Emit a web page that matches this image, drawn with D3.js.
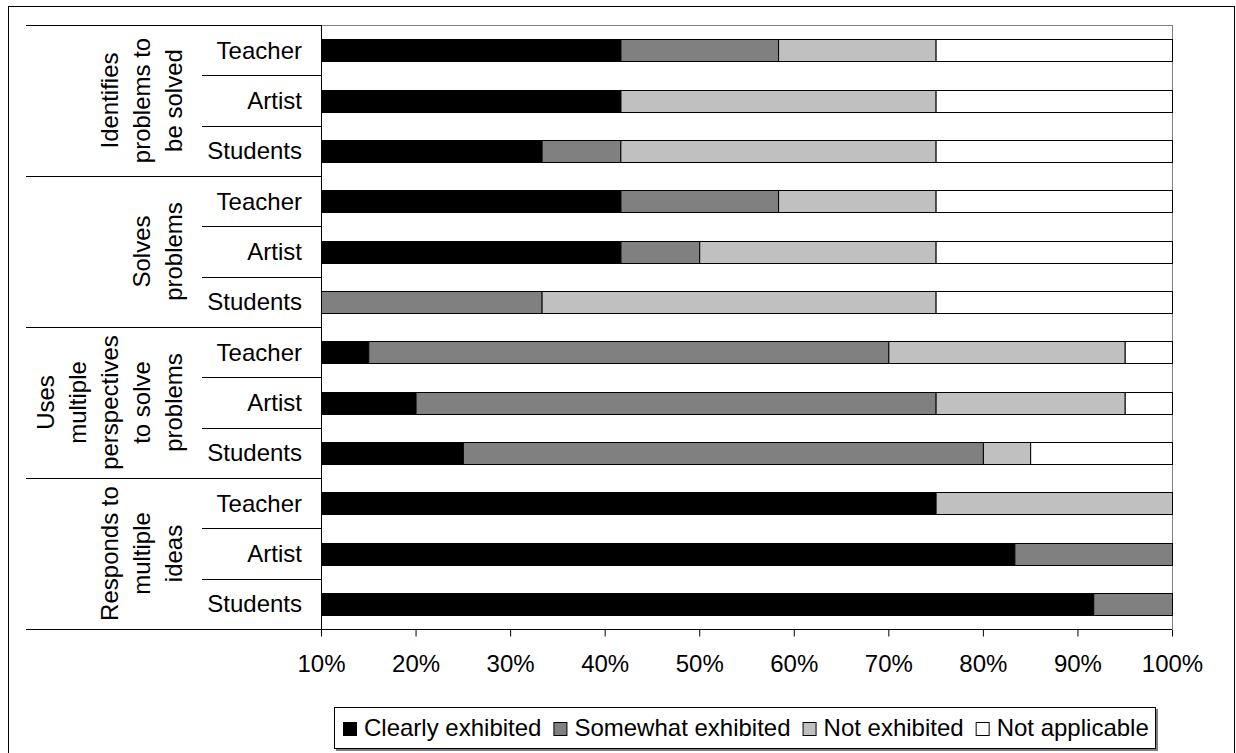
<!DOCTYPE html>
<html>
<head>
<meta charset="utf-8">
<script src="https://cdn.jsdelivr.net/npm/d3@7/dist/d3.min.js"></script>
<style>
  html, body { margin: 0; padding: 0; background: #fff; }
  svg { display: block; }
  text { font-family: "Liberation Sans", Arial, sans-serif; fill: #000; }
</style>
</head>
<body>
<svg id="chart" width="1236" height="753"></svg>
<script>
// ---- data ----
const groupLines = [
  ["Identifies", "problems to", "be solved"],
  ["Solves", "problems"],
  ["Uses", "multiple", "perspectives", "to solve", "problems"],
  ["Responds to", "multiple", "ideas"]
];
const roles = ["Teacher", "Artist", "Students"];
const seriesNames = ["Clearly exhibited", "Somewhat exhibited", "Not exhibited", "Not applicable"];
const seriesColors = ["#000000", "#808080", "#c0c0c0", "#ffffff"];
// one value per row (group x role), top to bottom, in percent
const clearly   = [41.67, 41.67, 33.33, 41.67, 41.67, 0,     15, 20, 25, 75, 83.33, 91.67];
const somewhat  = [16.67, 0,     8.33,  16.67, 8.33,  33.33, 55, 55, 55, 0,  16.67, 8.33];
const notExhib  = [16.66, 33.33, 33.34, 16.66, 25,    41.67, 25, 20, 5,  25, 0,     0];
const notAppl   = [25,    25,    25,    25,    25,    25,    5,  5,  15, 0,  0,     0];
const tickValues = [10, 20, 30, 40, 50, 60, 70, 80, 90, 100];

// ---- layout ----
const svg = d3.select("#chart");
const plot = { left: 321, right: 1172, top: 25, bottom: 629 };
const FS = 24;

// outer frame
svg.append("rect").attr("x", 8.5).attr("y", 6.5).attr("width", 1226).attr("height", 760)
  .attr("fill", "none").attr("stroke", "#000").attr("stroke-width", 1);

const rows = [];
groupLines.forEach((g, gi) => roles.forEach((r, ri) => rows.push({ id: gi + "-" + ri, gi, ri, role: r })));
const seriesVals = [clearly, somewhat, notExhib, notAppl];
rows.forEach((row, i) => { seriesVals.forEach((s, k) => row[seriesNames[k]] = s[i]); });

const x = d3.scaleLinear().domain([10, 100]).range([plot.left, plot.right]).clamp(true);
const y = d3.scaleBand().domain(rows.map(d => d.id)).range([plot.top, plot.bottom])
  .paddingInner(0.569).paddingOuter(0.2845);
const step = y.step();

// plot border (grey top/right)
svg.append("line").attr("x1", plot.left).attr("x2", plot.right).attr("y1", plot.top + 0.5).attr("y2", plot.top + 0.5)
  .attr("stroke", "#808080");
svg.append("line").attr("x1", plot.right + 0.5).attr("x2", plot.right + 0.5).attr("y1", plot.top).attr("y2", plot.bottom)
  .attr("stroke", "#808080");

// stacked bars
const stack = d3.stack().keys(seriesNames);
const stacked = stack(rows);
const layers = svg.append("g").selectAll("g").data(stacked).join("g")
  .attr("fill", (d, i) => seriesColors[i]);
layers.selectAll("rect")
  .data(d => d.filter(s => x(s[1]) - x(s[0]) > 0.5))
  .join("rect")
  .attr("x", d => x(d[0]) + 0.5)
  .attr("width", d => x(d[1]) - x(d[0]))
  .attr("y", d => Math.round(y(d.data.id)) + 0.5)
  .attr("height", Math.round(y.bandwidth()))
  .attr("stroke", "#000").attr("stroke-width", 1);

// x axis
const xAxis = svg.append("g").attr("transform", `translate(0,${plot.bottom + 0.5})`)
  .call(d3.axisBottom(x).tickValues(tickValues).tickFormat(d => d + "%").tickSize(7).tickPadding(18));
xAxis.select(".domain").attr("stroke", "#000").attr("d", `M${plot.left},0H${plot.right}`);
xAxis.selectAll(".tick line").attr("stroke", "#000");
xAxis.selectAll(".tick text").attr("font-size", FS).attr("font-family", "Liberation Sans, Arial, sans-serif");
xAxis.selectAll(".tick").attr("transform", d => `translate(${x(d) + 0.5},0)`);

// left axis line
svg.append("line").attr("x1", plot.left + 0.5).attr("x2", plot.left + 0.5).attr("y1", plot.top).attr("y2", plot.bottom)
  .attr("stroke", "#000");

// category separators
for (let i = 0; i <= rows.length; i++) {
  const yy = Math.round(plot.top + i * step) + 0.5;
  const isGroup = i % roles.length === 0;
  svg.append("line").attr("x1", isGroup ? 26 : 202).attr("x2", plot.left).attr("y1", yy).attr("y2", yy)
    .attr("stroke", "#000");
}

// role labels
svg.append("g").selectAll("text").data(rows).join("text")
  .attr("x", 302).attr("y", d => y(d.id) + y.bandwidth() / 2 + 8.6)
  .attr("text-anchor", "end").attr("font-size", FS)
  .text(d => d.role);

// group labels (rotated)
const lineH = 32;
groupLines.forEach((lines, gi) => {
  const cy = plot.top + (gi * roles.length + roles.length / 2) * step;
  const n = lines.length;
  lines.forEach((t, li) => {
    const bx = 182 - (n - 1 - li) * lineH;
    svg.append("text")
      .attr("transform", `translate(${bx},${cy}) rotate(-90)`)
      .attr("text-anchor", "middle").attr("font-size", FS)
      .text(t);
  });
});

// legend
const lg = svg.append("g");
lg.append("rect").attr("x", 336).attr("y", 709).attr("width", 822).attr("height", 42).attr("fill", "#808080");
lg.append("rect").attr("x", 334.5).attr("y", 707.5).attr("width", 821).attr("height", 41)
  .attr("fill", "#fff").attr("stroke", "#000");
let lx = 343;
seriesNames.forEach((name, i) => {
  lg.append("rect").attr("x", lx + 0.5).attr("y", 722.5).attr("width", 13).attr("height", 13)
    .attr("fill", seriesColors[i]).attr("stroke", "#000");
  const t = lg.append("text").attr("x", lx + 21).attr("y", 735.5).attr("font-size", FS).text(name);
  lx = lx + 21 + t.node().getComputedTextLength() + 12;
});
</script>
</body>
</html>
